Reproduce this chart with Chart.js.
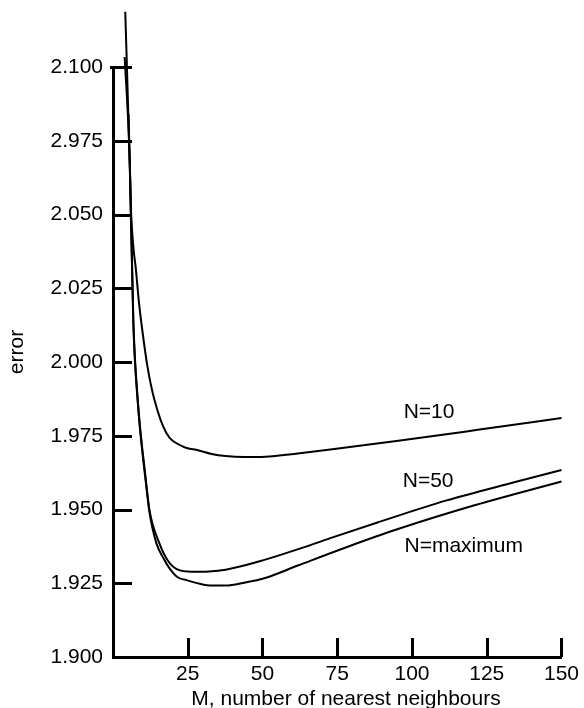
<!DOCTYPE html>
<html>
<head>
<meta charset="utf-8">
<script src="https://cdn.jsdelivr.net/npm/chart.js@4.4.0/dist/chart.umd.min.js"></script>
<style>
  html, body { margin: 0; padding: 0; background: #fff; }
</style>
</head>
<body>
<canvas id="chart" width="584" height="708"></canvas>
<script>
// values (M, error)
const mN10 = [5.2, 6.0, 6.9, 7.6, 8.6, 9.9, 11.6, 13.9, 17.8, 23.1, 28.7, 33, 37.7, 44, 50.9, 61.8, 72.7, 94.8, 122, 150];
const errN10 = [2.084, 2.052, 2.038, 2.032, 2.021, 2.010, 1.998, 1.987, 1.976, 1.9715, 1.9700, 1.9688, 1.9681, 1.9678, 1.9679, 1.9690, 1.9703, 1.9732, 1.9770, 1.9810];

const mN50 = [3.9, 5.6, 6.8, 8.3, 11.0, 12.2, 15.5, 18.2, 21.5, 26.4, 32, 37.7, 50.9, 61.8, 72.7, 88.2, 111.3, 134.5, 150];
const errN50 = [2.1034, 2.0685, 2.0143, 1.987, 1.960, 1.9498, 1.9386, 1.9329, 1.9297, 1.9289, 1.9290, 1.9296, 1.9330, 1.9365, 1.9403, 1.9455, 1.9530, 1.9593, 1.9634];

const mNmax = [4.1, 5.6, 6.8, 8.3, 11.0, 12.2, 14.5, 17.2, 18.8, 21.5, 24.4, 29, 33, 37.7, 44, 50.9, 61.8, 78.3, 94.8, 121.2, 150];
const errNmax = [2.1187, 2.067, 2.013, 1.986, 1.959, 1.949, 1.9386, 1.9329, 1.9302, 1.9271, 1.9261, 1.9248, 1.9242, 1.9242, 1.9252, 1.9268, 1.9310, 1.9373, 1.9432, 1.9515, 1.9595];

const seriesNames = ["N=10", "N=50", "N=maximum"];

const xTickValues = [25, 50, 75, 100, 125, 150];
const yTickValues = [1.9, 1.925, 1.95, 1.975, 2.0, 2.025, 2.05, 2.075, 2.1];
const yTickLabels = ["1.900", "1.925", "1.950", "1.975", "2.000", "2.025", "2.050", "2.975", "2.100"];

const xTitle = "M, number of nearest neighbours";
const yTitle = "error";

// where the curve names sit, in data units
const nameAnchors = [[105.7, 1.9830], [105.4, 1.9597], [117.3, 1.9376]];

const FONT = "'Liberation Sans', Arial, sans-serif";

function pts(xs, ys) {
  return xs.map((x, i) => ({ x: x, y: ys[i] }));
}

function curve(data) {
  return {
    data: data,
    borderColor: "#000",
    borderWidth: 2,
    pointRadius: 0,
    cubicInterpolationMode: "monotone",
    clip: false
  };
}

// inward tick marks, axis titles and curve names
const decor = {
  id: "decor",
  afterDraw(chart) {
    const { ctx, chartArea, scales } = chart;
    const x = scales.x, y = scales.y;
    ctx.save();
    ctx.strokeStyle = "#000";
    ctx.lineWidth = 3;
    ctx.beginPath();
    yTickValues.forEach((v, i) => {
      const py = Math.round(y.getPixelForValue(v)) + 0.5;
      // the top tick crosses the axis a little
      const start = i === yTickValues.length - 1 ? chartArea.left - 3 : chartArea.left;
      ctx.moveTo(start, py);
      ctx.lineTo(chartArea.left + 19, py);
    });
    xTickValues.forEach(v => {
      const px = Math.round(x.getPixelForValue(v)) + 0.5;
      ctx.moveTo(px, chartArea.bottom);
      ctx.lineTo(px, chartArea.bottom - 19);
    });
    ctx.stroke();

    ctx.fillStyle = "#000";
    ctx.font = "21px " + FONT;
    ctx.textAlign = "center";
    ctx.textBaseline = "middle";
    ctx.fillText(xTitle, 346, 699);

    ctx.save();
    ctx.translate(17, 352);
    ctx.rotate(-Math.PI / 2);
    ctx.fillText(yTitle, 0, 0);
    ctx.restore();

    nameAnchors.forEach((a, i) => {
      ctx.fillText(seriesNames[i], x.getPixelForValue(a[0]), y.getPixelForValue(a[1]));
    });
    ctx.restore();
  }
};

new Chart(document.getElementById("chart"), {
  type: "line",
  data: {
    datasets: [
      curve(pts(mN10, errN10)),
      curve(pts(mN50, errN50)),
      curve(pts(mNmax, errNmax))
    ]
  },
  options: {
    responsive: false,
    animation: false,
    layout: { padding: { top: 67, right: 17, left: 0, bottom: 0 } },
    plugins: { legend: { display: false }, tooltip: { enabled: false } },
    scales: {
      x: {
        type: "linear",
        min: 0,
        max: 150,
        afterFit: (s) => { s.height = 51; },
        afterBuildTicks: (s) => { s.ticks = xTickValues.map(v => ({ value: v })); },
        grid: { display: false, drawTicks: false },
        border: { display: true, color: "#000", width: 3 },
        ticks: { color: "#000", font: { family: FONT, size: 21 }, padding: 5, maxRotation: 0 }
      },
      y: {
        type: "linear",
        min: 1.9,
        max: 2.1,
        afterFit: (s) => { s.width = 113; },
        afterBuildTicks: (s) => { s.ticks = yTickValues.map(v => ({ value: v })); },
        grid: { display: false, drawTicks: false },
        border: { display: true, color: "#000", width: 3 },
        ticks: {
          color: "#000",
          font: { family: FONT, size: 21 },
          padding: 10,
          callback: (v, i) => yTickLabels[i]
        }
      }
    }
  },
  plugins: [decor]
});
</script>
</body>
</html>
